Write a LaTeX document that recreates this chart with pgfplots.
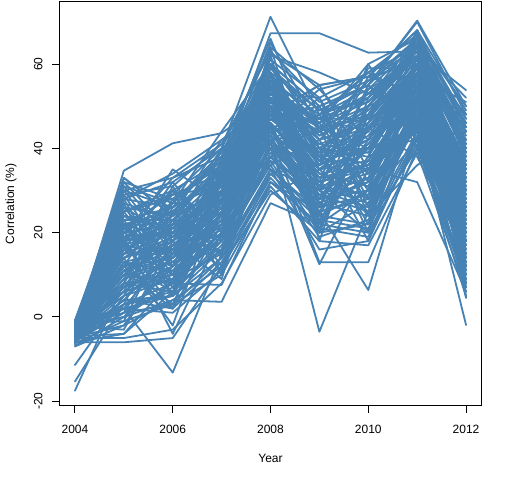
\documentclass[border=0pt]{standalone}
\usepackage{pgfplots}
\pgfplotsset{compat=1.18}
\usepackage{pgfplotstable}
\usepackage{fontspec}
\setmainfont{Liberation Sans}
\definecolor{steel}{RGB}{70,130,180}

\pgfplotstableread[header=has colnames]{
2004 2005 2006 2007 2008 2009 2010 2011 2012
-3.0 34.7 41.2 43.6 52 45 56 62 48
-2.0 20 22 40 71.2 48 52 66 40
-4.0 25 28 36 67.3 67.3 62.7 63 53.8
-3.0 12 14 30 42 -3.5 25 50 32
-2.0 2 -13.2 15 35 30 40 55 28
-17.5 8 10 20 40 30 35 50 25
-15.3 3 6 18 38 28 30 48 20
-11.4 5 12 22 44 34 36 52 22
-3.0 10 18 26 45 25 6.4 45 20
-4.0 15 16 28 48 35 40 45 -1.9
-5.0 8 10 25 43 13 13 40 10
-6.0 -6 -5 12 30 20 22 40 15
-1.0 30 33 38 60 50 55 70.3 50
-2.0 28 26 33 62.5 55 57 68 45
-7.0 -2 4 3.6 27 22 30 45 12
-3.0 0 8 7.6 32 25 28 42 4.8
-1.0 18 20 30 55 45 50 65 38
-2.5 22 25 35 58 40 48 64 42
-3.5 16 12 24 50 38 42 58 35
-4.0 10 8 20 40 28 30 50 18
-2.0 6 9 19 37 31 27 47 14
-3.2 24 20 31 52 42 46 60 36
-1.5 14 22 29 49 33 41 57 29
-4.5 3 5 14 35 24 22 44 9
-2.8 19 15 27 47 38 44 59 33
-3.6 11 19 33 53 41 39 56 27
-1.2 27 23 36 57 46 53 63 44
-5.2 1 7 16 39 27 24 46 11
-2.2 21 29 34 55 37 48 61 39
-3.9 9 13 23 44 29 33 53 24
-0.8 31 27 39 61 52 58 67 47
-4.8 4 2 13 33 21 19 42 7
-2.6 17 21 30 50 36 43 58 31
-3.3 13 16 25 46 35 37 55 26
-1.8 25 30 37 58 49 51 64 43
-6.2 -1 3 10 31 18 17 39 6
-2.9 20 14 26 47 39 45 60 34
-3.7 7 11 21 42 26 29 51 19
-1.4 23 26 32 54 43 49 62 40
-4.2 12 17 27 48 32 35 54 23
-2.4 15 24 35 56 40 38 57 30
-5.6 2 1 11 34 23 21 43 8
-3.0 26 19 29 51 44 52 63 41
-2.0 10 13 24 45 28 32 52 21
-3.8 18 27 38 59 47 44 60 37
-1.6 29 31 41 63 51 56 66 46
-4.4 6 10 18 41 30 26 49 16
-2.7 14 18 28 49 37 40 56 28
-3.4 21 16 23 43 33 36 55 25
-5.0 8 6 17 36 19 23 47 13
-2.1 32 28 36 56 48 54 65 45
-3.1 16 23 31 51 45 47 61 35
-4.6 5 9 15 38 25 28 48 17
-1.9 24 21 33 53 39 50 62 38
-3.5 11 14 26 46 34 31 53 22
-2.3 19 25 34 57 42 46 59 36
-6.8 0 4 12 32 22 20 41 10
-3.0 13 11 22 44 31 34 51 20
-1.0 28 32 40 64 54 57 68 49
-4.0 9 15 24 45 27 37 54 27
-2.5 22 18 30 50 41 45 58 33
-3.6 15 20 29 52 36 42 57 30
-5.4 3 8 19 40 29 25 46 15
-2.8 18 22 32 54 40 47 60 37
-4.1 7 12 21 43 24 30 50 18
-1.7 26 24 35 55 46 51 63 42
-3.3 12 17 27 47 38 39 55 26
-2.2 20 27 37 60 44 48 61 39
-4.9 4 5 16 37 20 27 46 12
-3.0 14 19 25 46 33 41 56 29
-2.0 25 29 31 53 47 52 64 44
-3.8 10 9 20 41 26 33 52 21
-2.6 17 15 29 50 35 44 58 32
-5.8 1 3 14 35 16 18 43 9
-1.3 30 26 38 59 49 55 66 47
-3.2 16 21 28 48 39 40 57 31
-4.3 6 14 23 42 31 29 49 17
-2.4 23 23 33 55 43 50 62 40
-3.7 11 16 26 46 32 36 54 24
-2.9 19 20 30 51 37 46 59 34
-3.0 33 24 30 45 47 58 64 52
-2.0 28 34 42 50 46 60 66 50
-4.0 22 12 35 65 45 40 58 46
-3.0 8 27 44 60 38 35 53 38
-6.0 -4 6 25 48 55 57 60 30
-1.0 2 5 33 47 50 55 70 48
-5.0 -5 -3 8 29 35 45 38 15
-2.0 17 10 23 62 58 53 51 5
-3.5 10 22 18 40 12.5 35 32 6
-4.0 12 3 28 43 52 24 36 44
-2.5 5 25 15 55 22 48 45 35
-3.8 28 8 32 38 45 20 62 12
-1.8 12 30 20 58 30 55 42 40
-4.5 22 5 38 45 20 50 55 8
-2.2 -3 18 28 36 50 30 67 25
-3.1 30 15 22 52 28 45 48 42
-5.5 18 2 35 60 35 25 60 18
-2.0 8 28 12 42 48 58 52 10
-3.6 25 10 40 35 25 42 65 30
-1.5 -1 22 18 56 42 22 58 45
-4.0 32 20 15 48 55 35 44 22
-2.7 14 -2 30 62 18 52 63 14
-3.3 3 25 36 40 40 18 50 38
-6.5 20 30 10 50 32 60 40 28
-2.1 27 5 25 58 23 38 68 7
-4.8 -2 15 40 44 48 28 55 48
-3.0 16 32 18 38 26 55 46 20
-1.1 10 8 34 53 52 32 62 35
-5.1 24 18 9 46 21 45 57 12
-2.9 6 26 38 66 38 24 48 40
-3.7 29 12 24 40 44 56 64 26
-2.3 1 20 32 57 28 40 42 16
-4.2 19 -4 20 48 46 30 60 44
-1.7 33 24 42 50 20 48 66 32
-3.9 9 31 14 34 36 57 53 8
-2.6 23 7 28 60 50 26 58 23
-5.3 4 16 36 54 24 46 68 41
-2.0 15 27 26 38 40 36 47 18
-3.4 26 13 16 52 31 54 61 36
-4.6 -4 9 30 44 54 42 56 11
-1.9 21 29 40 48 34 28 50 29
-3.2 11 2 22 62 26 50 64 46
-2.4 31 18 34 42 44 34 54 20
-4.4 7 23 11 56 38 59 59 33
-3.0 17 35 27 46 22 38 44 13
-2.1 0 12 37 52 47 47 66 39
-3.5 24 21 19 58 30 20 52 27
-5.9 13 6 33 36 42 53 62 4.5
-2.8 20 33 41 54 36 42 57 51
-3.9 2 17 24 64 27 32 46 24
}\raw
\pgfplotstabletranspose{\tdata}{\raw}
\pgfplotstablegetrowsof{\raw}
\pgfmathtruncatemacro{\N}{\pgfplotsretval-1}

\begin{document}
\begin{tikzpicture}
\path[use as bounding box] (0,0) rectangle (512bp,480bp);
\begin{axis}[
  at={(59.3bp,74.3bp)}, anchor=south west,
  scale only axis, width=422.4bp, height=404bp,
  xmin=2003.68, xmax=2012.32, ymin=-21.04, ymax=74.78,
  xtick={2004,2006,2008,2010,2012},
  ytick={-20,0,20,40,60},
  xtick pos=bottom, ytick pos=left,
  tick align=outside, major tick length=7.5bp,
  tick style={black, line width=1bp},
  axis line style={black, line width=1bp},
  font=\fontsize{12bp}{14bp}\selectfont,
  /pgf/number format/assume math mode=true,
  /pgf/number format/1000 sep={},
  xticklabel style={anchor=base, inner sep=0pt, yshift=-20.1bp},
  yticklabel style={xshift=-9.5bp, rotate=90, anchor=base, inner sep=0pt},
  xlabel={Year}, ylabel={Correlation (\%)},
  xlabel style={at={(axis description cs:0.5,-0.1411)}, anchor=base, inner sep=0pt},
  ylabel style={at={(axis description cs:-0.1072,0.5)}, anchor=base, inner sep=0pt},
]
\pgfplotsinvokeforeach{0,...,\N}{
  \addplot[steel, line width=1.8bp, line join=round, line cap=round] table[x=colnames, y=#1]{\tdata};
}
\end{axis}
\end{tikzpicture}
\end{document}
